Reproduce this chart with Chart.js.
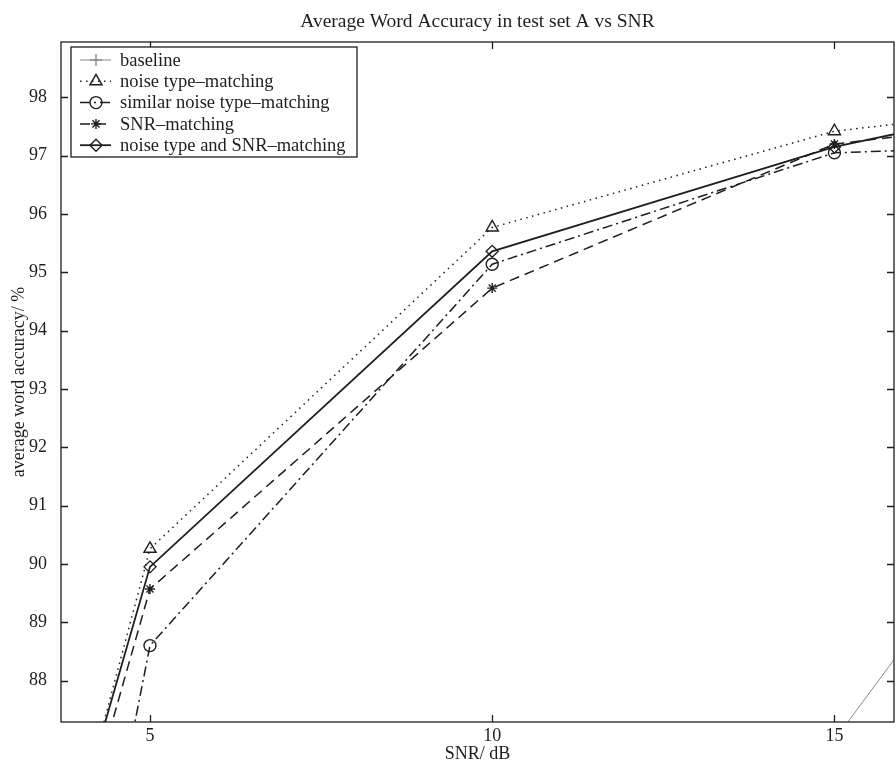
<!DOCTYPE html>
<html>
<head>
<meta charset="utf-8">
<script src="https://cdn.jsdelivr.net/npm/chart.js@4.4.1/dist/chart.umd.min.js"></script>
<style>
  html, body { margin: 0; padding: 0; background: #fff; }
  #wrap { width: 896px; height: 773px; }
</style>
</head>
<body>
<div id="wrap"><canvas id="accChart" width="896" height="773"></canvas></div>
<script>
// SNR points (dB) and word accuracy (%) per training scheme
var snr = [0, 5, 10, 15, 20]
var baseline = [30.0, 55.0, 75.0, 86.98, 94.9]
var noiseType = [68.2, 90.26, 95.77, 97.42, 98.1]
var similarNoise = [58.8, 88.6, 95.14, 97.05, 97.25]
var snrMatch = [68.9, 89.57, 94.73, 97.2, 97.9]
var noiseAndSnr = [69.6, 89.95, 95.36, 97.15, 98.4]

var xTicks = [5, 10, 15]
var yTicks = [88, 89, 90, 91, 92, 93, 94, 95, 96, 97, 98]

var serif = '"Liberation Serif", "DejaVu Serif", serif'
var ink = '#1e1e22'

function pts (vals) {
  return vals.map(function (v, i) { return { x: snr[i], y: v } })
}

function series (label, vals, dash, style, radius, color, width) {
  return {
    label: label,
    data: pts(vals),
    borderColor: color,
    borderWidth: width,
    borderDash: dash,
    pointStyle: style,
    pointRadius: radius,
    pointBorderWidth: 1.4,
    pointBorderColor: color,
    pointBackgroundColor: 'rgba(0,0,0,0)',
    tension: 0,
    fill: false
  }
}

var datasets = [
  series('baseline', baseline, [], 'cross', 6, '#8a8a8a', 1),
  series('noise type\u2013matching', noiseType, [1.5, 4.5], 'triangle', 7, ink, 1.5),
  series('similar noise type\u2013matching', similarNoise, [10, 4, 2, 4], 'circle', 6, ink, 1.5),
  series('SNR\u2013matching', snrMatch, [10, 6], 'star', 5, ink, 1.5),
  series('noise type and SNR\u2013matching', noiseAndSnr, [], 'rectRot', 6, ink, 1.8)
]

// MATLAB style frame with inward ticks on all four sides
var boxPlugin = {
  id: 'matlabBox',
  afterDatasetsDraw: function (chart) {
    var ctx = chart.ctx
    var a = chart.chartArea
    var xs = chart.scales.x
    var ys = chart.scales.y
    ctx.save()
    ctx.strokeStyle = ink
    ctx.lineWidth = 1.3
    ctx.setLineDash([])
    ctx.strokeRect(a.left, a.top, a.right - a.left, a.bottom - a.top)
    ctx.beginPath()
    xs.ticks.forEach(function (t) {
      var px = Math.round(xs.getPixelForValue(t.value)) + 0.5
      ctx.moveTo(px, a.bottom); ctx.lineTo(px, a.bottom - 7)
      ctx.moveTo(px, a.top); ctx.lineTo(px, a.top + 7)
    })
    ys.ticks.forEach(function (t) {
      var py = Math.round(ys.getPixelForValue(t.value)) + 0.5
      ctx.moveTo(a.left, py); ctx.lineTo(a.left + 7, py)
      ctx.moveTo(a.right, py); ctx.lineTo(a.right - 7, py)
    })
    ctx.stroke()
    ctx.restore()
  }
}

// boxed legend in the top left corner of the axes
var legendPlugin = {
  id: 'boxLegend',
  afterDraw: function (chart) {
    var ctx = chart.ctx
    var left = 71, top = 47, w = 286, h = 110
    ctx.save()
    ctx.fillStyle = '#fff'
    ctx.fillRect(left, top, w, h)
    ctx.strokeStyle = ink
    ctx.lineWidth = 1.3
    ctx.setLineDash([])
    ctx.strokeRect(left, top, w, h)
    ctx.font = '18.5px ' + serif
    ctx.textBaseline = 'middle'
    ctx.textAlign = 'left'
    chart.data.datasets.forEach(function (ds, i) {
      var y = top + 13 + i * 21.3
      ctx.strokeStyle = ds.borderColor
      ctx.lineWidth = ds.borderWidth
      ctx.setLineDash(ds.borderDash.length ? ds.borderDash : [])
      ctx.beginPath()
      ctx.moveTo(80, y); ctx.lineTo(111, y)
      ctx.stroke()
      ctx.setLineDash([])
      ctx.lineWidth = ds.pointBorderWidth
      ctx.fillStyle = 'rgba(0,0,0,0)'
      Chart.helpers.drawPoint(ctx, { pointStyle: ds.pointStyle, radius: ds.pointRadius, borderWidth: ds.pointBorderWidth, rotation: 0 }, 96, y)
      ctx.fillStyle = ink
      ctx.fillText(ds.label, 120, y + 1)
    })
    ctx.restore()
  }
}

var whiteBg = {
  id: 'whiteBg',
  beforeDraw: function (chart) {
    var ctx = chart.ctx
    ctx.save()
    ctx.fillStyle = '#fff'
    ctx.fillRect(0, 0, chart.width, chart.height)
    ctx.restore()
  }
}

var accChart = new Chart(document.getElementById('accChart'), {
  type: 'line',
  data: { datasets: datasets },
  options: {
    responsive: false,
    animation: false,
    devicePixelRatio: 1,
    layout: { autoPadding: false, padding: { left: 0, right: 2, top: 0, bottom: 0 } },
    plugins: {
      legend: { display: false },
      tooltip: { enabled: false },
      title: {
        display: true,
        fullSize: false,
        text: 'Average Word Accuracy in test set A vs SNR',
        color: ink,
        font: { family: serif, size: 19.5, weight: 'normal' },
        padding: { top: 10.3, bottom: 8.3 }
      }
    },
    scales: {
      x: {
        type: 'linear',
        min: 3.7,
        max: 15.87,
        grid: { display: false, drawTicks: false, tickLength: 0 },
        border: { display: false },
        afterBuildTicks: function (scale) {
          scale.ticks = xTicks.map(function (v) { return { value: v } })
        },
        ticks: { color: ink, padding: 3, font: { family: serif, size: 18 } },
        title: {
          display: true,
          text: 'SNR/ dB',
          color: ink,
          font: { family: serif, size: 18 },
          padding: { top: 0, bottom: 8.2 }
        },
        afterFit: function (scale) {
          scale.height = 51
          scale.paddingLeft = 0
          scale.paddingRight = 0
        }
      },
      y: {
        min: 87.29,
        max: 98.95,
        grid: { display: false, drawTicks: false, tickLength: 0 },
        border: { display: false },
        afterBuildTicks: function (scale) {
          scale.ticks = yTicks.map(function (v) { return { value: v } })
        },
        ticks: { color: ink, padding: 14, font: { family: serif, size: 18 } },
        title: {
          display: true,
          text: 'average word accuracy/ %',
          color: ink,
          font: { family: serif, size: 18 },
          padding: { top: 8.2, bottom: 0 }
        },
        afterFit: function (scale) { scale.width = 61 }
      }
    }
  },
  plugins: [whiteBg, boxPlugin, legendPlugin]
})
</script>
</body>
</html>
